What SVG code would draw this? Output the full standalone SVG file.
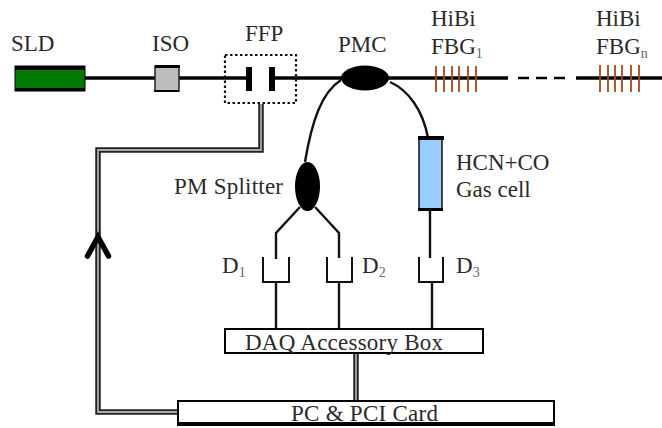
<svg xmlns="http://www.w3.org/2000/svg" width="662" height="428" viewBox="0 0 662 428">
<style>
text{font-family:"Liberation Serif","Times New Roman",serif;font-size:23px;fill:#2a2a2a}
.sub{font-size:14px;fill:#666}
.t{fill:none;stroke:#111;stroke-width:2.4}
.g{fill:none;stroke:#a5481c;stroke-width:1.8}
.b{fill:#fff;stroke:#000;stroke-width:2}
.d{fill:none;stroke:#111;stroke-width:2}
.dbl{fill:none;stroke:#222;stroke-width:5.5}
.dbl2{fill:none;stroke:#aaa;stroke-width:1.8}
</style>
<g id="connectors">
<path d="M85 78H508" fill="none" stroke="#000" stroke-width="3.4"/>
<path d="M518 78H570" fill="none" stroke="#000" stroke-width="2.5" stroke-dasharray="11 7"/>
<path d="M576 78H662" fill="none" stroke="#000" stroke-width="3.4"/>
<path class="t" d="M341 80C322 92 312 120 305 162"/>
<path class="t" d="M390 82C408 90 423 110 428 138"/>
<path class="t" d="M300 207L276 233V259"/>
<path class="t" d="M315 207L339 233V258"/>
<path class="t" d="M430 210V258"/>
<path class="t" d="M276 282V328"/>
<path class="t" d="M339 282V328"/>
<path class="t" d="M432 282V328"/>
<path class="dbl" d="M261 104V150H98V412H178"/>
<path class="dbl2" d="M261 104V150H98V412H178"/>
<path class="dbl" d="M356 353V401"/>
<path class="dbl2" d="M356 353V401"/>
<path d="M87.500 256L98 237L108.500 256" fill="none" stroke="#000" stroke-width="5.500" stroke-linecap="round"/>
</g>
<g id="sld"><rect x="15" y="66" width="70" height="25" fill="#007a00" stroke="#000" stroke-width="1"/><rect x="15" y="66" width="70" height="4" fill="#000"/><rect x="15" y="88" width="70" height="3" fill="#000"/><text x="11" y="51">SLD</text></g>
<g id="iso"><rect x="155" y="66" width="24" height="25" fill="#bdbdbd" stroke="#222" stroke-width="1.5"/><rect x="155" y="65" width="25" height="3" fill="#000"/><rect x="154" y="90" width="25" height="2" fill="#000"/><text x="152" y="51">ISO</text></g>
<g id="ffp"><rect x="225" y="55" width="71" height="48" fill="none" stroke="#111" stroke-width="2.2" stroke-dasharray="2.500 2.500"/><rect x="246" y="67" width="6" height="24" fill="#000"/><rect x="269" y="67" width="6" height="24" fill="#000"/><rect x="252" y="70" width="17" height="18" fill="#fff"/><text x="245" y="41">FFP</text></g>
<g id="pmc"><ellipse cx="365" cy="78" rx="24" ry="12.500" fill="#000"/><text x="338" y="52">PMC</text></g>
<g id="fbg1"><path class="g" d="M436 66V92M444 66V92M452 66V92M459 66V92M468 66V92M476 66V92"/><text x="431" y="26">HiBi</text><text x="431" y="54">FBG<tspan class="sub" dy="4">1</tspan></text></g>
<g id="fbgn"><path class="g" d="M600 65V92M608 65V92M615 65V92M622 65V92M631 65V92M639 65V92"/><text x="596" y="26">HiBi</text><text x="596" y="54">FBG<tspan class="sub" dy="4">n</tspan></text></g>
<g id="splitter"><ellipse cx="307.500" cy="186.500" rx="12.500" ry="24.500" fill="#000"/><text x="174" y="194" textLength="109" lengthAdjust="spacing">PM Splitter</text></g>
<g id="gascell"><rect x="419" y="138" width="23" height="71" fill="#99ccff" stroke="#111" stroke-width="1.500"/><rect x="418" y="136" width="26" height="4" fill="#000"/><rect x="418" y="208" width="25" height="3" fill="#000"/><text x="456" y="170">HCN+CO</text><text x="456" y="197">Gas cell</text></g>
<g id="d1"><path class="d" d="M263 257V282H289V257"/><text x="222" y="273">D<tspan class="sub" dy="4">1</tspan></text></g>
<g id="d2"><path class="d" d="M327 257V282H352V257"/><text x="362" y="273">D<tspan class="sub" dy="4">2</tspan></text></g>
<g id="d3"><path class="d" d="M419 257V282H443V257"/><text x="456" y="273">D<tspan class="sub" dy="4">3</tspan></text></g>
<g id="daq"><rect x="225" y="329" width="258" height="24" class="b"/><text x="245" y="350" textLength="198" lengthAdjust="spacing">DAQ Accessory Box</text></g>
<g id="pc"><rect x="178" y="401" width="376" height="24" class="b"/><rect x="178" y="422" width="376" height="3" fill="#000"/><text x="291" y="421" textLength="147" lengthAdjust="spacing">PC &amp; PCI Card</text></g>
</svg>
